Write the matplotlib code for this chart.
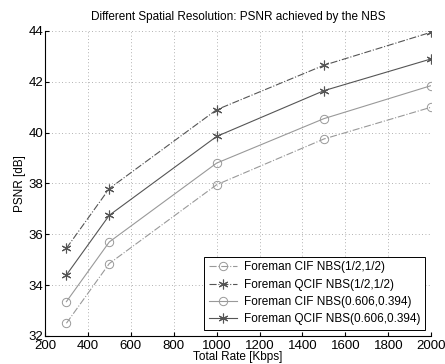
import matplotlib
matplotlib.use("Agg")
import matplotlib.pyplot as plt

rate = [300, 500, 1000, 1500, 2000]
cif_half = [32.5, 34.85, 37.95, 39.75, 41.0]
qcif_half = [35.45, 37.8, 40.9, 42.65, 43.95]
cif_opt = [33.35, 35.7, 38.8, 40.55, 41.85]
qcif_opt = [34.4, 36.75, 39.85, 41.65, 42.9]

labels = ["Foreman CIF NBS(1/2,1/2)", "Foreman QCIF NBS(1/2,1/2)",
          "Foreman CIF NBS(0.606,0.394)", "Foreman QCIF NBS(0.606,0.394)"]

plt.rcParams['font.family'] = ['Liberation Sans', 'DejaVu Sans']

fig = plt.figure(figsize=(4.45, 3.64), dpi=100)
ax = fig.add_axes([0.101, 0.077, 0.868, 0.838])

star = (6, 2, 0)
ax.plot(rate, cif_half, color='#999999', ls='-.', lw=0.8, marker='o', ms=6, mfc='none', mew=0.7, label=labels[0])
ax.plot(rate, qcif_half, color='#555555', ls='-.', lw=0.8, marker=star, ms=7, mew=0.8, label=labels[1])
ax.plot(rate, cif_opt, color='#999999', ls='-', lw=0.8, marker='o', ms=6, mfc='none', mew=0.7, label=labels[2])
ax.plot(rate, qcif_opt, color='#555555', ls='-', lw=0.8, marker=star, ms=7, mew=0.8, label=labels[3])

ax.set_xlim(200, 2000)
ax.set_ylim(32, 44)
ax.set_xticks(range(200, 2001, 200))
ax.set_yticks(range(32, 45, 2))
ax.grid(True, ls=(0, (1, 3)), color='#999999', lw=0.6)
ax.spines['top'].set_visible(False)
ax.spines['right'].set_visible(False)
ax.tick_params(direction='in', labelsize=9.5, length=3, pad=1)
ax.tick_params(axis='x', pad=3)

ax.set_title("Different Spatial Resolution: PSNR achieved by the NBS", fontsize=8.5, pad=8)
ax.set_xlabel("Total Rate [Kbps]", fontsize=8.5, labelpad=-0.5)
ax.set_ylabel("PSNR [dB]", fontsize=8.5, labelpad=2)

leg = ax.legend(loc='lower right', fontsize=8.5, fancybox=False, framealpha=1,
                edgecolor='black', borderaxespad=0.5, handlelength=2.4,
                handletextpad=0.6, labelspacing=0.45, borderpad=0.4)
leg.get_frame().set_linewidth(0.7)

fig.savefig("out.png", dpi=100)
